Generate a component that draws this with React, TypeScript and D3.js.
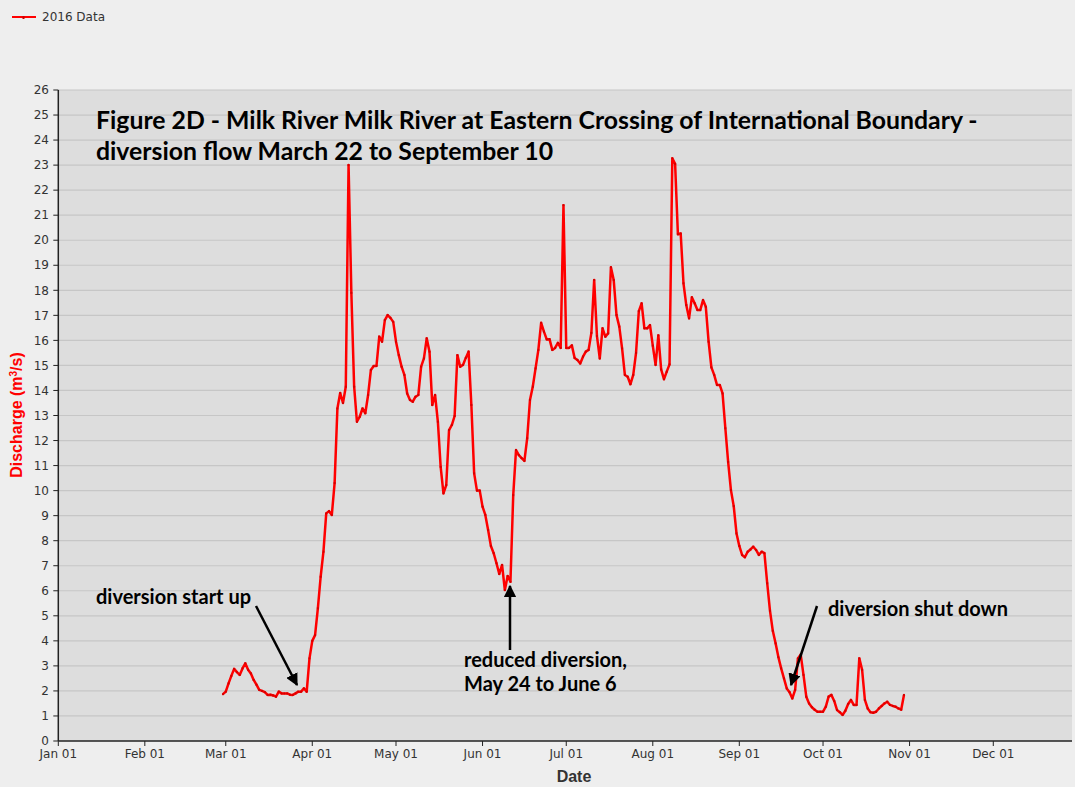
import React from "react";
import * as d3 from "d3";

// ---- Data (daily discharge, m³/s), 2016 ----
const seriesName = "2016 Data";
const startDate = "2016-02-29";
const febValues = [1.87];
const marValues = [1.97, 2.3, 2.6, 2.88, 2.75, 2.64, 2.9, 3.1, 2.85, 2.7, 2.44, 2.25, 2.04, 2.0, 1.95, 1.84, 1.85, 1.82, 1.77, 1.97, 1.9, 1.9, 1.9, 1.85, 1.84, 1.9, 1.97, 1.97, 2.1, 1.97, 3.3];
const aprValues = [4.0, 4.23, 5.3, 6.56, 7.56, 9.09, 9.18, 9.03, 10.3, 13.28, 13.9, 13.5, 14.15, 23.0, 17.9, 14.15, 12.75, 12.95, 13.28, 13.09, 13.82, 14.82, 14.98, 14.98, 16.15, 15.95, 16.81, 17.01, 16.9, 16.74];
const mayValues = [15.95, 15.41, 14.95, 14.62, 13.88, 13.62, 13.55, 13.75, 13.82, 14.95, 15.28, 16.08, 15.55, 13.42, 13.82, 12.75, 10.95, 9.89, 10.22, 12.42, 12.62, 12.98, 15.41, 14.95, 15.02, 15.3, 15.55, 13.42, 10.69, 10.0, 10.0];
const junValues = [9.36, 9.03, 8.43, 7.79, 7.5, 7.1, 6.67, 7.03, 6.03, 6.59, 6.36, 9.82, 11.62, 11.42, 11.3, 11.19, 12.09, 13.62, 14.15, 14.88, 15.62, 16.7, 16.35, 16.04, 16.05, 15.62, 15.7, 15.9, 15.7, 21.4];
const julValues = [15.7, 15.7, 15.8, 15.3, 15.22, 15.08, 15.35, 15.55, 15.62, 16.3, 18.41, 16.17, 15.28, 16.48, 16.15, 16.28, 18.92, 18.41, 17.01, 16.55, 15.68, 14.62, 14.55, 14.25, 14.62, 15.5, 17.17, 17.48, 16.48, 16.48, 16.61];
const augValues = [15.79, 15.02, 16.2, 14.84, 14.45, 14.75, 15.04, 23.27, 23.05, 20.24, 20.27, 18.28, 17.41, 16.88, 17.72, 17.48, 17.21, 17.21, 17.61, 17.34, 15.95, 14.92, 14.62, 14.22, 14.22, 13.88, 12.49, 11.15, 10.02, 9.38, 8.29];
const sepValues = [7.79, 7.43, 7.34, 7.56, 7.65, 7.76, 7.63, 7.43, 7.56, 7.5, 6.3, 5.2, 4.4, 3.9, 3.35, 2.9, 2.5, 2.1, 1.95, 1.7, 2.04, 3.3, 3.45, 2.64, 1.77, 1.5, 1.35, 1.25, 1.17, 1.17];
const octValues = [1.17, 1.37, 1.77, 1.84, 1.6, 1.24, 1.15, 1.04, 1.21, 1.48, 1.64, 1.44, 1.44, 3.3, 2.84, 1.64, 1.3, 1.15, 1.13, 1.17, 1.3, 1.4, 1.5, 1.57, 1.44, 1.4, 1.37, 1.3, 1.25, 1.84];

const yTicks = d3.range(0, 27);
const monthTicks = d3.range(0, 12).map((m) => new Date(2016, m, 1));

const titleLines = [
  "Figure 2D - Milk River Milk River at Eastern Crossing of International Boundary -",
  "diversion flow March 22 to September 10",
];
const annotations = [
  { lines: ["diversion start up"], x: 96, y: 604 },
  { lines: ["reduced diversion,", "May 24 to June 6"], x: 464, y: 667 },
  { lines: ["diversion shut down"], x: 828, y: 616 },
];

const W = 1075;
const H = 787;

export default function App() {
  const allValues = [
    ...febValues, ...marValues, ...aprValues, ...mayValues, ...junValues,
    ...julValues, ...augValues, ...sepValues, ...octValues,
  ];
  const start = d3.timeParse("%Y-%m-%d")(startDate)!;
  const data = allValues.map((v, i) => ({ date: d3.timeDay.offset(start, i), value: v }));

  const x0 = 58.3;
  const pxPerDay = 2.791;
  const x = d3
    .scaleTime()
    .domain([new Date(2016, 0, 1), new Date(2017, 0, 1)])
    .range([x0, x0 + 366 * pxPerDay]);
  const y = d3.scaleLinear().domain([0, 26]).range([741, 90]);

  const line = d3
    .line<{ date: Date; value: number }>()
    .x((d) => x(d.date))
    .y((d) => y(d.value));

  const fmt = d3.timeFormat("%b %d");
  const plotLeft = x0;
  const plotRight = 1072;
  const plotTop = y(26);
  const plotBottom = y(0);

  const tickFont = "'DejaVu Sans', sans-serif";
  const noteFont = "Lato, 'Open Sans', sans-serif";

  return (
    <svg
      width={W}
      height={H}
      style={{ position: "absolute", left: 0, top: 0, display: "block" }}
    >
      <defs>
        <marker id="ah" viewBox="0 0 10 10" refX="9" refY="5" markerWidth="5" markerHeight="5" orient="auto-start-reverse" markerUnits="strokeWidth">
          <path d="M0,0 L10,5 L0,10 z" fill="#000" />
        </marker>
        <clipPath id="plotclip">
          <rect x={plotLeft} y={plotTop} width={plotRight - plotLeft} height={plotBottom - plotTop} />
        </clipPath>
      </defs>
      <rect x={0} y={0} width={W} height={H} fill="#eeeeee" />

      {/* Legend */}
      <g>
        <line x1={12} x2={36} y1={17} y2={17} stroke="#ff0000" strokeWidth={2} />
        <rect x={22.5} y={16} width={2} height={3} fill="#cc0000" />
        <text x={42} y={21} fontFamily={tickFont} fontSize={12} fill="#333">
          {seriesName}
        </text>
      </g>

      {/* Plot background */}
      <rect x={plotLeft} y={plotTop} width={plotRight - plotLeft} height={plotBottom - plotTop} fill="#dddddd" />

      {/* Grid */}
      {yTicks.filter((t) => t > 0).map((t) => (
        <line key={t} x1={plotLeft} x2={plotRight} y1={y(t)} y2={y(t)} stroke="#c6c6c6" strokeWidth={1.2} />
      ))}

      {/* Axes */}
      <line x1={plotLeft} x2={plotLeft} y1={plotTop} y2={plotBottom} stroke="#222" strokeWidth={1.5} />
      <line x1={plotLeft} x2={plotRight} y1={plotBottom} y2={plotBottom} stroke="#222" strokeWidth={1.5} />

      {yTicks.map((t) => (
        <g key={t}>
          <line x1={plotLeft - 5} x2={plotLeft} y1={y(t)} y2={y(t)} stroke="#222" strokeWidth={1} />
          <text x={49} y={y(t) + 4.2} textAnchor="end" fontFamily={tickFont} fontSize={12} fill="#333">
            {t}
          </text>
        </g>
      ))}

      {monthTicks.map((m, i) => (
        <g key={i}>
          <line x1={x(m)} x2={x(m)} y1={plotBottom} y2={plotBottom + 5} stroke="#222" strokeWidth={1} />
          <text x={x(m)} y={758} textAnchor="middle" fontFamily={tickFont} fontSize={12} fill="#333">
            {fmt(m)}
          </text>
        </g>
      ))}

      {/* Axis titles */}
      <text x={574} y={782} textAnchor="middle" fontFamily="'Liberation Sans', Arial, sans-serif" fontWeight="bold" fontSize={16} fill="#333">
        Date
      </text>
      <text
        transform={`translate(22, 415) rotate(-90)`}
        textAnchor="middle"
        fontFamily="'Liberation Sans', Arial, sans-serif"
        fontWeight="bold"
        fontSize={16}
        fill="#ff0000"
      >
        Discharge (m<tspan baselineShift="super" fontSize={10}>3</tspan>/s)
      </text>

      {/* Data */}
      <g clipPath="url(#plotclip)">
        <path d={line(data) ?? ""} fill="none" stroke="#ff0000" strokeWidth={2.5} strokeLinejoin="round" />
        {data.map((d, i) => (
          <rect key={i} x={x(d.date) - 1} y={y(d.value) - 1} width={2} height={2} fill="#d40000" />
        ))}
      </g>

      {/* Title */}
      {titleLines.map((t, i) => (
        <text key={i} x={96} y={129 + i * 31} fontFamily={noteFont} fontWeight="bold" fontSize={24.8} fill="#000">
          {t}
        </text>
      ))}

      {/* Annotations */}
      {annotations.map((a, i) => (
        <text key={i} fontFamily={noteFont} fontWeight="bold" fontSize={20} fill="#000">
          {a.lines.map((l, j) => (
            <tspan key={j} x={a.x} y={a.y + j * 24}>
              {l}
            </tspan>
          ))}
        </text>
      ))}

      {/* Arrows */}
      <line x1={256} y1={606} x2={297} y2={685} stroke="#000" strokeWidth={2.5} markerEnd="url(#ah)" />
      <line x1={510} y1={650} x2={510} y2={586} stroke="#000" strokeWidth={2.5} markerEnd="url(#ah)" />
      <line x1={817} y1={606} x2={791} y2={685} stroke="#000" strokeWidth={2.5} markerEnd="url(#ah)" />
    </svg>
  );
}
